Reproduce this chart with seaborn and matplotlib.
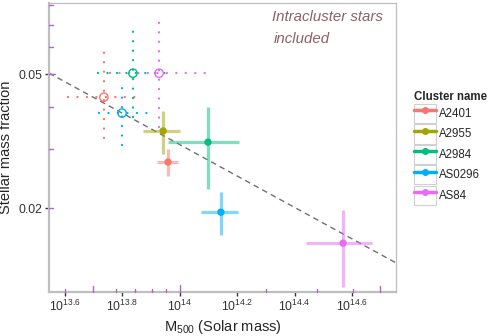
import numpy as np
import pandas as pd
import matplotlib
matplotlib.use("Agg")
import matplotlib.pyplot as plt
import matplotlib.transforms as mtransforms
from matplotlib.lines import Line2D
from matplotlib.patches import Rectangle
from matplotlib.legend_handler import HandlerTuple
import seaborn as sns

# ── data (log10 values) ────────────────────────────────────────────────────────
clusters = ["A2401", "A2955", "A2984", "AS0296", "AS84"]
palette = ["#F8766D", "#A3A500", "#00BF7D", "#00B0F6", "#E76BF3"]

# stellar mass only (solid symbols)
logm = [13.960, 13.943, 14.099, 14.144, 14.569]
logm_lo = [13.922, 13.873, 13.960, 14.075, 14.440]
logm_hi = [13.995, 14.002, 14.207, 14.203, 14.669]
fstar = [0.0274, 0.0339, 0.0314, 0.01945, 0.01574]
fstar_lo = [0.0249, 0.0289, 0.0228, 0.01663, 0.01164]
fstar_hi = [0.0299, 0.0388, 0.0399, 0.0223, 0.01973]

# intracluster stars included (open symbols)
icl_clusters = ["A2401", "A2984", "AS0296", "AS84"]
icl_logm = [13.737, 13.838, 13.800, 13.929]
icl_logm_lo = [13.612, 13.717, 13.720, 13.758]
icl_logm_hi = [13.863, 13.977, 13.890, 14.096]
icl_f = [0.0427, 0.0503, 0.0383, 0.0503]
icl_f_lo = [0.0323, 0.0373, 0.0308, 0.0348]
icl_f_hi = [0.0589, 0.0685, 0.0480, 0.0748]

# fitted relation: log10 f = norm + slope * (log10 M - 14)
fit_norm = -1.510
fit_slope = -0.467

x_ticks = [13.6, 13.8, 14.0, 14.2, 14.4, 14.6]
y_ticks = [0.02, 0.05]
x_logticks = [4e13, 5e13, 6e13, 7e13, 8e13, 9e13, 1e14, 2e14, 3e14, 4e14, 5e14]
y_logticks = [0.02, 0.03, 0.04, 0.05, 0.06, 0.07, 0.08]

xlim_log = (13.546, 14.753)
ylim = (0.01127, 0.0813)

# ── style ──────────────────────────────────────────────────────────────────────
sns.set_theme(style="white")
plt.rcParams["font.family"] = ["Liberation Sans", "DejaVu Sans"]
plt.rcParams["mathtext.fontset"] = "custom"
plt.rcParams["mathtext.rm"] = "Liberation Sans"
plt.rcParams["mathtext.it"] = "Liberation Sans:italic"
plt.rcParams["mathtext.bf"] = "Liberation Sans:bold"

col = dict(zip(clusters, palette))

fig = plt.figure(figsize=(5.04, 3.36), dpi=100)
ax = fig.add_axes([49 / 504, 1 - 292 / 336, 347 / 504, 289 / 336])
ax.set_xscale("log")
ax.set_yscale("log")

solid = pd.DataFrame({"cluster": clusters, "m": np.power(10, logm), "f": fstar,
                      "m_lo": np.power(10, logm_lo), "m_hi": np.power(10, logm_hi),
                      "f_lo": fstar_lo, "f_hi": fstar_hi})
icl = pd.DataFrame({"cluster": icl_clusters, "m": np.power(10, icl_logm), "f": icl_f,
                    "m_lo": np.power(10, icl_logm_lo), "m_hi": np.power(10, icl_logm_hi),
                    "f_lo": icl_f_lo, "f_hi": icl_f_hi})

# fit line
xx = np.linspace(*xlim_log, 50)
ax.plot(10 ** xx, 10 ** (fit_norm + fit_slope * (xx - 14)), ls=(0, (4, 3)),
        color="#707070", lw=1.0, zorder=1)

# dotted error bars for ICL-included values
for _, r in icl.iterrows():
    c = col[r.cluster]
    eb = ax.errorbar(r.m, r.f, xerr=[[r.m - r.m_lo], [r.m_hi - r.m]],
                     yerr=[[r.f - r.f_lo], [r.f_hi - r.f]], fmt="none",
                     ecolor=c, elinewidth=1.7, zorder=2)
    for lc in eb[2]:
        lc.set_linestyle((0, (0.01, 4.0)))
        lc.set_capstyle("round")
sns.scatterplot(data=icl, x="m", y="f", hue="cluster", palette=col, ax=ax,
                marker="o", s=36, linewidth=1.0, legend=False, zorder=3)
ax.collections[-1].set_facecolor("none")
ax.collections[-1].set_edgecolor([col[c] for c in icl.cluster])

# solid error bars
for _, r in solid.iterrows():
    c = col[r.cluster]
    ax.errorbar(r.m, r.f, xerr=[[r.m - r.m_lo], [r.m_hi - r.m]],
                yerr=[[r.f - r.f_lo], [r.f_hi - r.f]], fmt="none",
                ecolor=c, elinewidth=2.3, alpha=0.5, zorder=2)
sns.scatterplot(data=solid, x="m", y="f", hue="cluster", palette=col, ax=ax,
                s=28, linewidth=0, legend=False, zorder=4)

# log tick annotations
tick_c = "#B45FDC"
bx = mtransforms.blended_transform_factory(ax.transData, ax.transAxes)
for v in x_logticks:
    mant = round(v / 10 ** np.floor(np.log10(v)))
    h = 0.025 if mant == 1 else (0.022 if mant == 5 else 0.011)
    ax.plot([v, v], [0, h], transform=bx, color=tick_c, lw=1.0, clip_on=False, zorder=5)
by = mtransforms.blended_transform_factory(ax.transAxes, ax.transData)
for v in y_logticks:
    mant = round(v / 10 ** np.floor(np.log10(v)))
    w = 0.016 if mant == 5 else 0.012
    ax.plot([0, w], [v, v], transform=by, color=tick_c, lw=1.0, clip_on=False, zorder=5)

ax.set_xlim(10 ** xlim_log[0], 10 ** xlim_log[1])
ax.set_ylim(*ylim)
ax.set_xticks([10 ** t for t in x_ticks])
ax.set_xticklabels([f"$10^{{{t:g}}}$" for t in x_ticks])
ax.set_yticks(y_ticks)
ax.set_yticklabels([f"{t:g}" for t in y_ticks])
ax.minorticks_off()
ax.tick_params(axis="both", which="major", length=3, width=1.0, color="#333333",
               labelsize=8.8, pad=2, labelcolor="#333333", bottom=True, left=True)
ax.grid(False)

for s in ax.spines.values():
    s.set_color("#BEBEBE")
    s.set_linewidth(0.9)
ax.spines["left"].set_linewidth(1.6)
ax.spines["bottom"].set_linewidth(1.6)

ax.set_xlabel("M$_{500}$ (Solar mass)", fontsize=10.5, labelpad=3)
ax.set_ylabel("Stellar mass fraction", fontsize=10.5, labelpad=4)

ax.text(0.643, 0.952, "Intracluster stars", transform=ax.transAxes, fontsize=10.8,
        style="italic", color="#8B6169", ha="left", va="center")
ax.text(0.647, 0.876, "included", transform=ax.transAxes, fontsize=10.8,
        style="italic", color="#8B6169", ha="left", va="center")

# legend with boxed keys
handles = []
for c in clusters:
    box = Rectangle((0, 0), 1, 1, facecolor="white", edgecolor="#D0D0D0", lw=0.8)
    ln = Line2D([], [], color=col[c], lw=2.5, marker="o", markersize=4)
    handles.append((box, ln))
leg = fig.legend(handles, clusters, handler_map={tuple: HandlerTuple(ndivide=1)},
                 loc="upper left", bbox_to_anchor=(409 / 504, 1 - 86 / 336),
                 frameon=False, fontsize=8.3, title="Cluster name",
                 title_fontproperties={"weight": "bold", "size": 8.3},
                 handlelength=1.9, handleheight=2.2, labelspacing=0.1,
                 handletextpad=0.3, borderaxespad=0)
leg._legend_box.align = "left"

fig.savefig("out.png", dpi=100)
